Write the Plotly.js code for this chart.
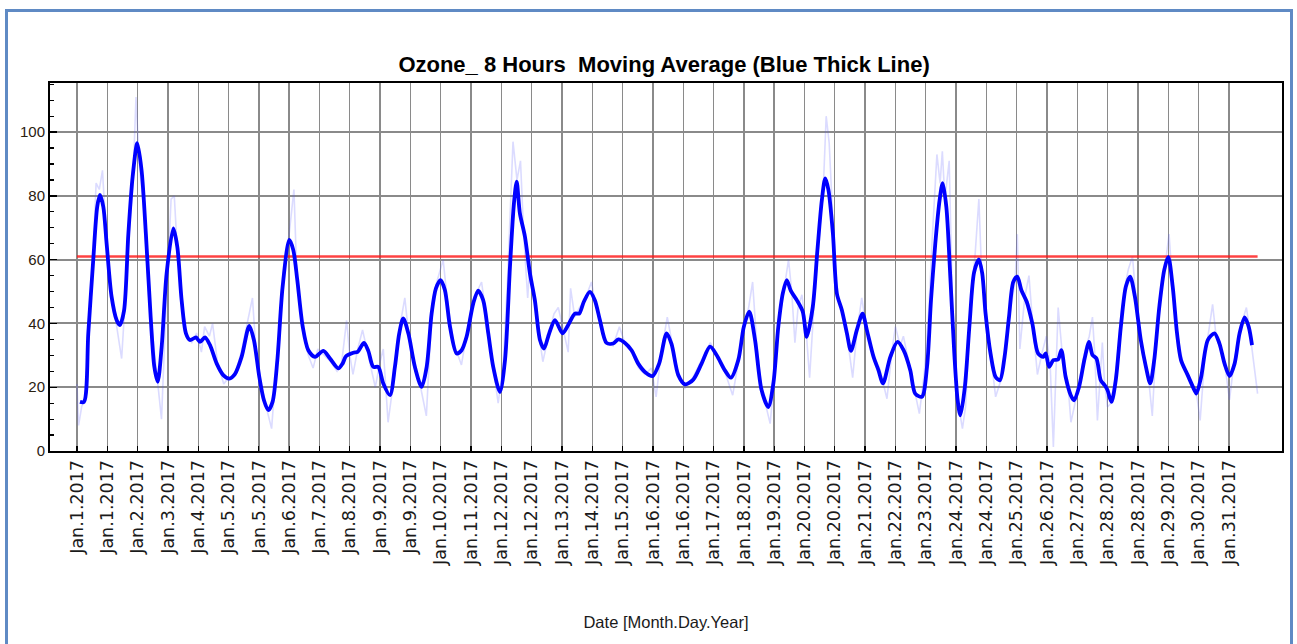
<!DOCTYPE html>
<html>
<head>
<meta charset="utf-8">
<script src="https://cdn.plot.ly/plotly-3.0.1.min.js"></script>
<style>
  html, body { margin: 0; padding: 0; background: #ffffff; }
  #wrap { position: relative; width: 1297px; height: 644px; overflow: hidden; }
  #chart { position: absolute; left: 0; top: 0; width: 1297px; height: 644px; }
  #frame { position: absolute; left: 5px; top: 9px; width: 1288px; height: 660px;
           border: 3px solid #5f8ac4; box-sizing: border-box; pointer-events: none; }
</style>
</head>
<body>
<div id="wrap">
  <div id="chart"></div>
  <div id="frame"></div>
</div>
<script>
// ---- Data (hours since Jan 1 2017 00:00, ozone values) ----
const tickHours = [0,19,38,57,76,95,114,133,152,171,190,209,228,247,266,285,304,323,342,361,380,399,418,437,456,475,494,513,532,551,570,589,608,627,646,665,684,703,722];
const tickLabels = ["Jan.1.2017","Jan.1.2017","Jan.2.2017","Jan.3.2017","Jan.4.2017","Jan.5.2017","Jan.5.2017","Jan.6.2017","Jan.7.2017","Jan.8.2017","Jan.9.2017","Jan.9.2017","Jan.10.2017","Jan.11.2017","Jan.12.2017","Jan.12.2017","Jan.13.2017","Jan.14.2017","Jan.15.2017","Jan.16.2017","Jan.16.2017","Jan.17.2017","Jan.18.2017","Jan.19.2017","Jan.20.2017","Jan.20.2017","Jan.21.2017","Jan.22.2017","Jan.23.2017","Jan.24.2017","Jan.24.2017","Jan.25.2017","Jan.26.2017","Jan.27.2017","Jan.28.2017","Jan.28.2017","Jan.29.2017","Jan.30.2017","Jan.31.2017"];

// 8-hour moving average (blue thick line)
const maHours = [1.9,4.4,7.1,10.2,12.7,14.4,16.5,18.6,21.7,24.9,26.9,29.5,32.2,34.9,37.8,40.5,43.2,46.2,48.5,50.6,53.1,56.2,60.4,62.9,65.6,68.3,70.8,74.6,77.1,80.2,83.4,87.6,91.7,95.5,99,103.2,108,110.9,114.3,117.2,119.9,122.6,125.6,128.9,133.1,135.6,138.1,141.5,145,149.2,154.4,158.6,163.8,166.5,168.6,173.2,175.9,179.9,182.6,185.7,188.8,192,196.2,199.3,202,204.5,207.7,211.8,216,219.2,222.3,225,227.9,230.6,233.8,238,241.1,244.2,248.4,251.5,254.6,257.8,260.9,265.1,268.3,271.4,273.9,275.6,277.6,280.8,283.9,287,290.2,292.7,296,299.6,304.4,307.9,312.1,314.8,317.7,321.5,324.6,327.8,331.9,336.1,339.3,343.5,347.6,351.8,356,360.8,364.9,369.6,372.7,376.9,381.1,386.3,391.5,396.8,400.9,406.1,409.9,414.5,418,421.4,425,429.1,433.3,436.5,439.6,442.4,444.9,447.4,451.2,454.9,457.4,461.2,464.1,466.9,469,471,473.8,476.3,479.4,482.6,485.1,488.8,492.4,495.1,499.3,502.4,505.2,509.8,514.3,518.1,522.3,525.4,529.6,532.8,535.3,538,540.7,542.6,544.9,547.4,549.9,552,553.7,556.5,559.5,562.3,565.3,567.4,569.5,572.6,575.8,578.5,581.4,584.2,586.9,589.4,591.9,595.3,598.8,602.4,605.7,607.2,609.3,612,614.9,617,619.7,622.9,625,628.1,631.6,634.4,636.5,639,641.7,644.2,645.9,648.4,651.1,654.3,657.4,660.1,663.1,666.8,670,672.7,675.2,678.4,681.5,684,686.8,689.5,692,696.2,700.4,701.7,704.6,708.8,713,716.1,719.3,722.4,725.6,728.7,731.9,734.4,736.5];
const maValues = [15.4,15.4,36.9,59.9,76.6,80.3,76.6,65,48.4,41,39.5,44,68,86,96.5,88,68,42,26.4,21.7,32.7,55.7,69.8,64,47.3,36.9,34.8,35.6,34.2,35.6,33.2,27.4,23.8,22.7,24.1,29.5,39.2,34.8,23.2,15.9,12.8,15.4,28.5,51.5,66.2,63,53.6,39,31.6,29.5,31.4,29,25.9,27.4,29.7,30.8,31.1,33.9,31.4,26.4,26.4,21.2,17.5,26.4,36.9,41.6,36.9,26.4,20.1,26.4,43.1,51,53.6,50.5,39,30.6,31.6,35.8,46.3,50.3,47.3,36.9,26.4,18.5,28.5,57.8,77.7,84.5,74.6,67.2,55.7,47.3,34.8,32.1,36.9,41,36.9,39.5,43.1,43.1,46.8,49.9,47.3,41,33.9,33.7,35,33.9,31.6,27.4,24.8,23.5,27.4,36.9,33.5,23.8,20.9,22.4,27.4,32.7,30.1,25.3,23,28.5,39,43.7,34.8,19.1,13.8,21.2,39,49.4,53.6,50.3,47.3,43.7,35.8,45.2,63,78.7,85.5,81.9,68.3,49.4,44.2,36.9,31.4,37.9,43.1,37.9,29.5,25.3,21.2,29.5,34.2,31.6,25.3,18,17,26.4,47.3,65.1,78.7,84,76.6,54.7,30.6,15.9,11.2,20,40,56,60.1,55.7,43.1,30.6,23.2,22.2,29.5,42.1,53.1,54.7,50.5,46.8,40,30.6,29.5,30.6,26.4,28.5,28.7,31.6,23.2,17.5,15.9,20.1,29,34.2,30.1,29,22.2,20.6,19.1,15.4,22.2,39,51.5,54.7,48.4,34.8,26.4,21.2,28.5,45.2,56.8,60.9,51.5,36.9,28.5,23.8,19.1,18,23.2,34.8,36.9,33.7,27.4,23.5,27.4,36.9,41.9,39,33.2];

// hourly ozone (thin light-blue line)
const rawHours = [0,1,3,5,7,10,12,14,16,18,21,24,28,30,33,35,37,39,42,45,49,53,55,57,59,61,63,66,69,72,75,78,80,83,85,88,92,95,99,103,108,110,112,115,118,122,125,129,133,136,138,141,145,148,151,155,159,163,166,169,171,173,176,179,182,185,187,190,192,195,199,202,205.5,208,212,215,219,222,225,229.5,232,236,241,244,248,253.6,257,261,264,267,270,273.3,275.8,278,280,282.5,284,287,290,292,296,299,301.7,305,307.9,309.4,312,315,318,322.5,325,328,332,336,340,344,348,352,356,360,363,366,370,373,377,381,386,391,397,401,406,411,415,418,421,423.5,426,429,434.5,437,440,443,446,448,450,452,454.4,457,459.2,462,465,468,469.6,471.5,474,477,480,483,486.2,489,491.9,495,499,503,507.7,511,513,516,518,522,525,528,531,534,536,539,541,542.4,544,546.7,549,552,555,557,560,563,565.3,567,570,573,575.8,579,582,585,588,589.4,591,594,596.7,599,602,605,607.6,610,612,615,618,621,623,626,629,632,634.5,636.5,638,639.6,642.7,644,645.9,648,651,654,657,659,661.6,664,667,670,672,674,676,679,682,684.5,687,690,693,696,700,702,704,707,709.5,711.8,714,717,720,722.4,725,728,730,733,735,737,740];
const rawValues = [21,8,14,16,33,60,84,82,88,70,50,42,29,46,70,83,111,90,75,48,28,10,35,58,79,80,62,46,36,34,37,31,39,36,40,28,21,23,24,31,43,48,33,22,15,7,27,55,68,82,52,40,30,26,32,30,28,25,28,41,30,24,32,38,31,25,20,28,32,9,24,38,48,36,25,21,11,40,52,60,48,34,27,36,47,53,40,25,15,26,55,97,85,91,68,48,60,46,35,28,37,43,45,38,31,51,42,45,47,53,46,40,34,33,39,33,31,26,24,26,17,30,42,34,24,19.6,23,28,34,30,25,17.5,29,38,45,53,34,20,8.6,22,40,50,60,50,34,45,49,38,23,46,65,85,105,96.5,70,48,44,35,23,38,48,38,30,26,16.4,32,39,33,36,26,19,11.7,24,45,66,93,84,94,79,91,40,16,7,14,45,62,79,56,42,30,17,22,31,44,53,68,32,48,55,40,24,31,36,27,1.3,45,28,22,9,16,24,32,36,42,30,9.6,34,22,13.8,15,24,41,52,57,61,46,33,27,21,11,30,48,58,68,50,36,28,23,19,17,9.6,30,38,46,36,32,25,16,27,36,40,45,38,30,18];

// Ozone standard reference line
const limitHours = [0, 740];
const limitValue = [61, 61];

const sans = "Liberation Sans, Arial, sans-serif";

const traces = [
  { x: rawHours, y: rawValues, type: "scatter", mode: "lines",
    line: { color: "rgba(90,90,255,0.22)", width: 1.6 }, hoverinfo: "skip", showlegend: false },
  { x: limitHours, y: limitValue, type: "scatter", mode: "lines",
    line: { color: "rgba(255,20,20,0.8)", width: 2.6 }, showlegend: false },
  { x: maHours, y: maValues, type: "scatter", mode: "lines",
    line: { color: "#0000ff", width: 3.8, shape: "spline", smoothing: 0.8 }, showlegend: false }
];

const layout = {
  width: 1297, height: 644,
  margin: { l: 50, r: 15, t: 83, b: 193, pad: 0 },
  paper_bgcolor: "rgba(0,0,0,0)",
  plot_bgcolor: "#ffffff",
  showlegend: false,
  title: {
    text: "<b>Ozone_ 8 Hours  Moving Average (Blue Thick Line)</b>",
    font: { family: sans, size: 22, color: "#000000" },
    x: 0.512, xanchor: "center", xref: "container",
    y: 1 - 64/644, yanchor: "middle", yref: "container"
  },
  xaxis: {
    range: [-16.9, 755.3],
    tickmode: "array", tickvals: tickHours, ticktext: tickLabels,
    tickangle: -90,
    ticks: "inside", ticklen: 5, tickwidth: 1.3, tickcolor: "#000000",
    tickfont: { family: "DejaVu Sans, sans-serif", size: 17.5, color: "#1a1a1a" },
    showgrid: true, gridcolor: "#8a8a8a", gridwidth: 1.4,
    showline: true, linecolor: "#000000", linewidth: 2, mirror: true,
    zeroline: false,
    title: { text: "Date [Month.Day.Year]", font: { family: sans, size: 16.5, color: "#1a1a1a" }, standoff: 52 }
  },
  yaxis: {
    range: [0, 115.4],
    tickmode: "array", tickvals: [0, 20, 40, 60, 80, 100],
    ticks: "inside", ticklen: 7, tickwidth: 1.3, tickcolor: "#000000",
    minor: { dtick: 5, ticks: "inside", ticklen: 4, tickwidth: 1.2, tickcolor: "#000000", showgrid: false },
    tickfont: { family: sans, size: 15, color: "#2a2010" },
    showgrid: true, gridcolor: "#8a8a8a", gridwidth: 2,
    showline: true, linecolor: "#000000", linewidth: 2, mirror: true,
    zeroline: false
  }
};

Plotly.newPlot("chart", traces, layout, { displayModeBar: false, staticPlot: true });
</script>
</body>
</html>
